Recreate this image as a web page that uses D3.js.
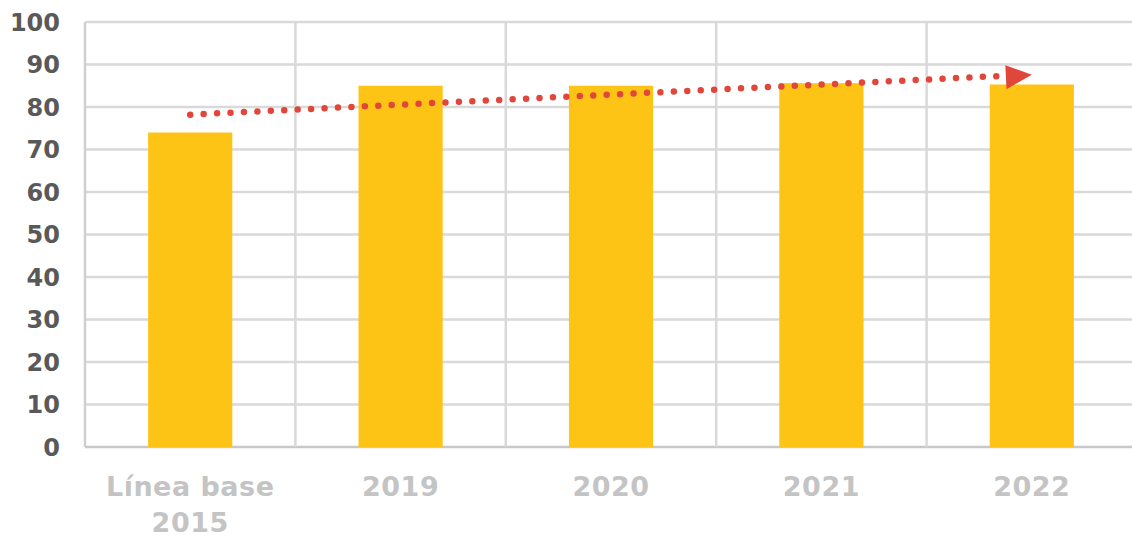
<!DOCTYPE html>
<html>
<head>
<meta charset="utf-8">
<script src="https://cdn.jsdelivr.net/npm/d3@7"></script>
<style>
  body { margin: 0; background: #fff; }
  svg { display: block; }
</style>
</head>
<body>
<svg id="chart"></svg>
<script>
var categories = ["Línea base|2015", "2019", "2020", "2021", "2022"];
var values = [74, 85, 85, 85.6, 85.3];
var yTicks = [0, 10, 20, 30, 40, 50, 60, 70, 80, 90, 100];
// trend arrow: start value at first category, end value at last category
var trendValues = [78.2, 87.6];

var width = 1132, height = 537;
var margin = { top: 22, right: -5, bottom: 90, left: 85 };

var svg = d3.select('#chart')
    .attr('width', width)
    .attr('height', height);

var x = d3.scaleBand().domain(categories)
    .range([margin.left, width - margin.right]).padding(0);
var y = d3.scaleLinear().domain([0, 100])
    .range([height - margin.bottom, margin.top]);

var grid = '#d9d9d9';

// horizontal grid
svg.append('g').selectAll('line').data(yTicks).enter().append('line')
    .attr('x1', margin.left).attr('x2', width - margin.right)
    .attr('y1', function(d){ return y(d); }).attr('y2', function(d){ return y(d); })
    .attr('stroke', function(d){ return d === 0 ? '#c8c8c8' : grid; })
    .attr('stroke-width', 2.5);

// vertical grid at band edges
svg.append('g').selectAll('line').data(categories).enter().append('line')
    .attr('x1', function(d){ return x(d); }).attr('x2', function(d){ return x(d); })
    .attr('y1', y(100)).attr('y2', y(0))
    .attr('stroke', function(d, i){ return i === 0 ? '#cfcfcf' : grid; })
    .attr('stroke-width', 2.5);

// y labels
svg.append('g').selectAll('text').data(yTicks).enter().append('text')
    .attr('x', 60)
    .attr('y', function(d){ return y(d); })
    .attr('dy', '0.36em')
    .attr('text-anchor', 'end')
    .style('font-family', '"DejaVu Sans", sans-serif')
    .style('font-weight', 'bold')
    .style('font-size', '24px')
    .style('fill', '#595959')
    .text(function(d){ return d; });

// bars
var barW = x.bandwidth() * 0.4;
svg.append('g').selectAll('rect').data(values).enter().append('rect')
    .attr('x', function(d, i){ return x(categories[i]) + (x.bandwidth() - barW) / 2; })
    .attr('y', function(d){ return y(d); })
    .attr('width', barW)
    .attr('height', function(d){ return y(0) - y(d); })
    .attr('fill', '#FDC415');

// x labels
var xl = svg.append('g').selectAll('text').data(categories).enter().append('text')
    .attr('x', function(d){ return x(d) + x.bandwidth() / 2; })
    .attr('y', 496)
    .attr('text-anchor', 'middle')
    .style('font-family', '"DejaVu Sans", sans-serif')
    .style('font-weight', 'bold')
    .style('font-size', '27px')
    .style('letter-spacing', '0.5px')
    .style('fill', '#c4c4c4');
xl.each(function(d){
  var parts = d.split('|');
  var t = d3.select(this);
  parts.forEach(function(p, j){
    t.append('tspan').attr('x', t.attr('x')).attr('dy', j === 0 ? 0 : 36).text(p);
  });
});

// trend dotted arrow
var x0 = x(categories[0]) + x.bandwidth() / 2;
var x1 = x(categories[categories.length - 1]) + x.bandwidth() / 2;
var y0 = y(trendValues[0]), y1 = y(trendValues[1]);
var ang = Math.atan2(y1 - y0, x1 - x0);
var headLen = 26;
var lx = x1 - headLen * Math.cos(ang), ly = y1 - headLen * Math.sin(ang);
svg.append('line')
    .attr('x1', x0).attr('y1', y0)
    .attr('x2', lx - 4).attr('y2', ly)
    .attr('stroke', '#E0463A')
    .attr('stroke-width', 6.5)
    .attr('stroke-linecap', 'round')
    .attr('stroke-dasharray', '0 13.45');
svg.append('path')
    .attr('d', d3.line()([[x1, y1], [lx, ly - 12], [lx, ly + 12]]) + 'Z')
    .attr('fill', '#E0463A')
    .attr('transform', 'rotate(' + (ang * 180 / Math.PI) + ',' + x1 + ',' + y1 + ')');
</script>
</body>
</html>
